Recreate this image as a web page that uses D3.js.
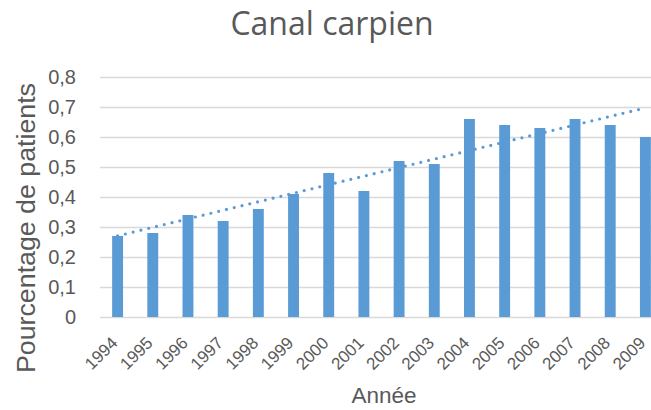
<!DOCTYPE html>
<html>
<head>
<meta charset="utf-8">
<script src="https://cdn.jsdelivr.net/npm/d3@7"></script>
<style>
  body { margin: 0; background: white; }
  svg { display: block; }
</style>
</head>
<body>
<div id="chart"></div>
<script>
// Data
const years = ["1994", "1995", "1996", "1997", "1998", "1999", "2000", "2001",
  "2002", "2003", "2004", "2005", "2006", "2007", "2008", "2009"];
const values = [0.27, 0.28, 0.34, 0.32, 0.36, 0.41, 0.48, 0.42,
  0.52, 0.51, 0.66, 0.64, 0.63, 0.66, 0.64, 0.60];
const yTicks = [0, 0.1, 0.2, 0.3, 0.4, 0.5, 0.6, 0.7, 0.8];

const width = 651;
const height = 410;
const barColor = "#5B9BD5";
const textColor = "#595959";
const gridColor = "#D9D9D9";
const sans = "'Liberation Sans', Arial, sans-serif";

// plot area runs past the right edge, like the cropped original
const plot = { left: 100, right: 663, top: 77, bottom: 317 };

const svg = d3.select("#chart").append("svg")
  .attr("width", width).attr("height", height);

const x = d3.scaleBand().domain(years).range([plot.left, plot.right]).paddingInner(0.69).paddingOuter(0.345);
const y = d3.scaleLinear().domain([0, 0.8]).range([plot.bottom, plot.top]);

const fmt = d => d === 0 ? "0" : d3.format(".1f")(d).replace(".", ",");

// gridlines
svg.append("g").selectAll("line")
  .data(yTicks)
  .enter().append("line")
  .attr("x1", plot.left).attr("x2", plot.right)
  .attr("y1", d => Math.round(y(d)) + 0.5).attr("y2", d => Math.round(y(d)) + 0.5)
  .attr("stroke", gridColor).attr("stroke-width", 1.3);

// y tick labels
svg.append("g").selectAll("text")
  .data(yTicks)
  .enter().append("text")
  .attr("x", 76).attr("y", d => y(d) + 7)
  .attr("text-anchor", "end")
  .attr("font-family", sans)
  .attr("font-size", 20)
  .attr("fill", textColor)
  .text(fmt);

// bars
svg.append("g").selectAll("rect")
  .data(values)
  .enter().append("rect")
  .attr("x", (d, i) => x(years[i]))
  .attr("width", x.bandwidth())
  .attr("y", d => y(d))
  .attr("height", d => y(0) - y(d))
  .attr("fill", barColor);

// linear trendline (least squares on the bar values)
const n = values.length;
const mx = d3.mean(values, (d, i) => i);
const my = d3.mean(values);
const slope = d3.sum(values, (d, i) => (i - mx) * (d - my)) / d3.sum(values, (d, i) => (i - mx) * (i - mx));
const intercept = my - slope * mx;
const cx = i => x(years[i]) + x.bandwidth() / 2;
svg.append("line")
  .attr("x1", cx(0)).attr("y1", y(intercept))
  .attr("x2", cx(n - 1)).attr("y2", y(intercept + slope * (n - 1)))
  .attr("stroke", barColor)
  .attr("stroke-width", 3.2)
  .attr("stroke-linecap", "round")
  .attr("stroke-dasharray", "0,8");

// x tick labels
svg.append("g").selectAll("text")
  .data(years)
  .enter().append("text")
  .attr("transform", d => `translate(${x(d) + x.bandwidth() / 2 + 1},${plot.bottom + 27}) rotate(-45)`)
  .attr("text-anchor", "end")
  .attr("font-family", sans)
  .attr("font-size", 17)
  .attr("fill", textColor)
  .text(d => d);

// title
svg.append("text")
  .attr("x", 332).attr("y", 35)
  .attr("text-anchor", "middle")
  .attr("font-family", "'Open Sans', sans-serif")
  .attr("font-size", 32)
  .attr("fill", textColor)
  .text("Canal carpien");

// axis titles
svg.append("text")
  .attr("x", 384).attr("y", 403)
  .attr("text-anchor", "middle")
  .attr("font-family", sans)
  .attr("font-size", 22.5)
  .attr("fill", textColor)
  .text("Année");

svg.append("text")
  .attr("transform", "translate(35,228) rotate(-90)")
  .attr("text-anchor", "middle")
  .attr("font-family", sans)
  .attr("font-size", 25.5)
  .attr("textLength", 290)
  .attr("lengthAdjust", "spacingAndGlyphs")
  .attr("fill", textColor)
  .text("Pourcentage de patients");
</script>
</body>
</html>
